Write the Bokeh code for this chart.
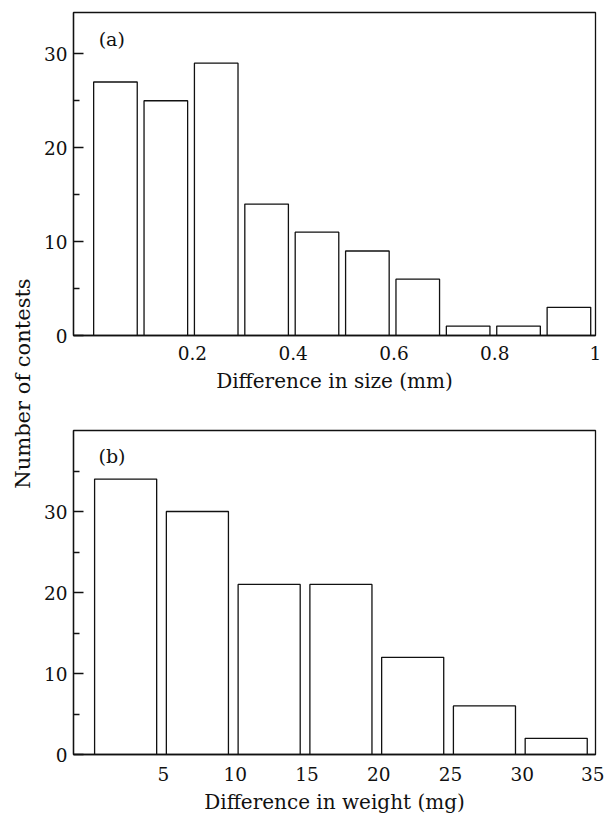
import math
from bokeh.plotting import figure
from bokeh.models import Range1d, FixedTicker, Label
from bokeh.layouts import row, column
from bokeh.embed import file_html
from bokeh.resources import INLINE

# ---- data ----
size_bins = [0.0, 0.1, 0.2, 0.3, 0.4, 0.5, 0.6, 0.7, 0.8, 0.9]
size_counts = [27, 25, 29, 14, 11, 9, 6, 1, 1, 3]
size_bin_width = 0.1
size_ticks = [0.2, 0.4, 0.6, 0.8, 1.0]
size_tick_labels = ["0.2", "0.4", "0.6", "0.8", "1"]

weight_bins = [0, 5, 10, 15, 20, 25, 30]
weight_counts = [34, 30, 21, 21, 12, 6, 2]
weight_bin_width = 5
weight_ticks = [5, 10, 15, 20, 25, 30, 35]
weight_tick_labels = ["5", "10", "15", "20", "25", "30", "35"]

count_ticks_a = [0, 10, 20, 30]
count_minor_a = [5, 15, 25]
count_ticks_b = [0, 10, 20, 30]
count_minor_b = [5, 15, 25, 35]

# ---- style ----
FONT = "DejaVu Serif"
TICK_SIZE = "18.5px"
TITLE_SIZE = "20px"
YLAB_SIZE = "21px"
INK = "#111111"
LW = 1.3
BAR_L = 0.04   # bar left inset (fraction of bin)
BAR_R = 0.905  # bar right end (fraction of bin)


def style_axes(p, xticks, xlabels, yticks, yminor, xtitle, tick_standoff, title_standoff):
    p.grid.visible = False
    p.outline_line_color = INK
    p.outline_line_width = LW
    p.background_fill_color = "white"
    p.border_fill_color = "white"
    xa = p.xaxis[0]
    xa.ticker = FixedTicker(ticks=xticks)
    xa.major_label_overrides = {t: l for t, l in zip(xticks, xlabels)}
    xa.major_tick_in = 0
    xa.major_tick_out = 0
    xa.minor_tick_in = 0
    xa.minor_tick_out = 0
    xa.axis_line_color = INK
    xa.axis_line_width = LW
    xa.major_label_standoff = tick_standoff
    xa.major_label_text_font = FONT
    xa.major_label_text_font_size = TICK_SIZE
    xa.major_label_text_color = INK
    xa.axis_label = xtitle
    xa.axis_label_text_font = FONT
    xa.axis_label_text_font_size = TITLE_SIZE
    xa.axis_label_text_font_style = "normal"
    xa.axis_label_text_color = INK
    xa.axis_label_standoff = title_standoff
    ya = p.yaxis[0]
    ya.ticker = FixedTicker(ticks=yticks, minor_ticks=yminor)
    ya.major_tick_in = 10
    ya.major_tick_out = 0
    ya.minor_tick_in = 6
    ya.minor_tick_out = 0
    ya.major_tick_line_color = INK
    ya.minor_tick_line_color = INK
    ya.major_tick_line_width = LW
    ya.minor_tick_line_width = LW
    ya.axis_line_color = INK
    ya.axis_line_width = LW
    ya.major_label_standoff = 6
    ya.major_label_text_font = FONT
    ya.major_label_text_font_size = TICK_SIZE
    ya.major_label_text_color = INK


def bars(p, bins, counts, width):
    left = [b + BAR_L * width for b in bins]
    right = [b + BAR_R * width for b in bins]
    p.quad(left=left, right=right, bottom=0, top=counts,
           fill_color="white", line_color=INK, line_width=LW)


# ---- panel (a) ----
p1 = figure(frame_width=522, frame_height=323,
            x_range=Range1d(-0.036, 1.0), y_range=Range1d(0, 34.4),
            toolbar_location=None, output_backend="svg",
            min_border_left=34, min_border_right=9,
            min_border_top=12, min_border_bottom=62)
bars(p1, size_bins, size_counts, size_bin_width)
style_axes(p1, size_ticks, size_tick_labels, count_ticks_a, count_minor_a,
           "Difference in size (mm)", 10, 6)
p1.add_layout(Label(x=0.014, y=31.6, text="(a)", text_font=FONT,
                    text_font_size="19px", text_color=INK,
                    text_align="left", text_baseline="middle"))

# ---- panel (b) ----
p2 = figure(frame_width=522, frame_height=324,
            x_range=Range1d(-1.27, 35.1), y_range=Range1d(0, 40),
            toolbar_location=None, output_backend="svg",
            min_border_left=34, min_border_right=9,
            min_border_top=33, min_border_bottom=58)
bars(p2, weight_bins, weight_counts, weight_bin_width)
style_axes(p2, weight_ticks, weight_tick_labels, count_ticks_b, count_minor_b,
           "Difference in weight (mg)", 12, 6)
p2.add_layout(Label(x=0.47, y=36.8, text="(b)", text_font=FONT,
                    text_font_size="19px", text_color=INK,
                    text_align="left", text_baseline="middle"))

# ---- shared y label ----
H = 812
LABW = 39
lab = figure(width=LABW, height=H, x_range=Range1d(0, LABW), y_range=Range1d(0, H),
             toolbar_location=None, output_backend="svg",
             x_axis_type=None, y_axis_type=None, min_border=0)
lab.grid.visible = False
lab.outline_line_color = None
lab.add_layout(Label(x=22, y=H - 383, text="Number of contests", angle=math.pi / 2,
                     text_font=FONT, text_font_size=YLAB_SIZE, text_color=INK,
                     text_align="center", text_baseline="middle"))

layout = row(lab, column(p1, p2))
open("out.html", "w").write(file_html(layout, INLINE))
